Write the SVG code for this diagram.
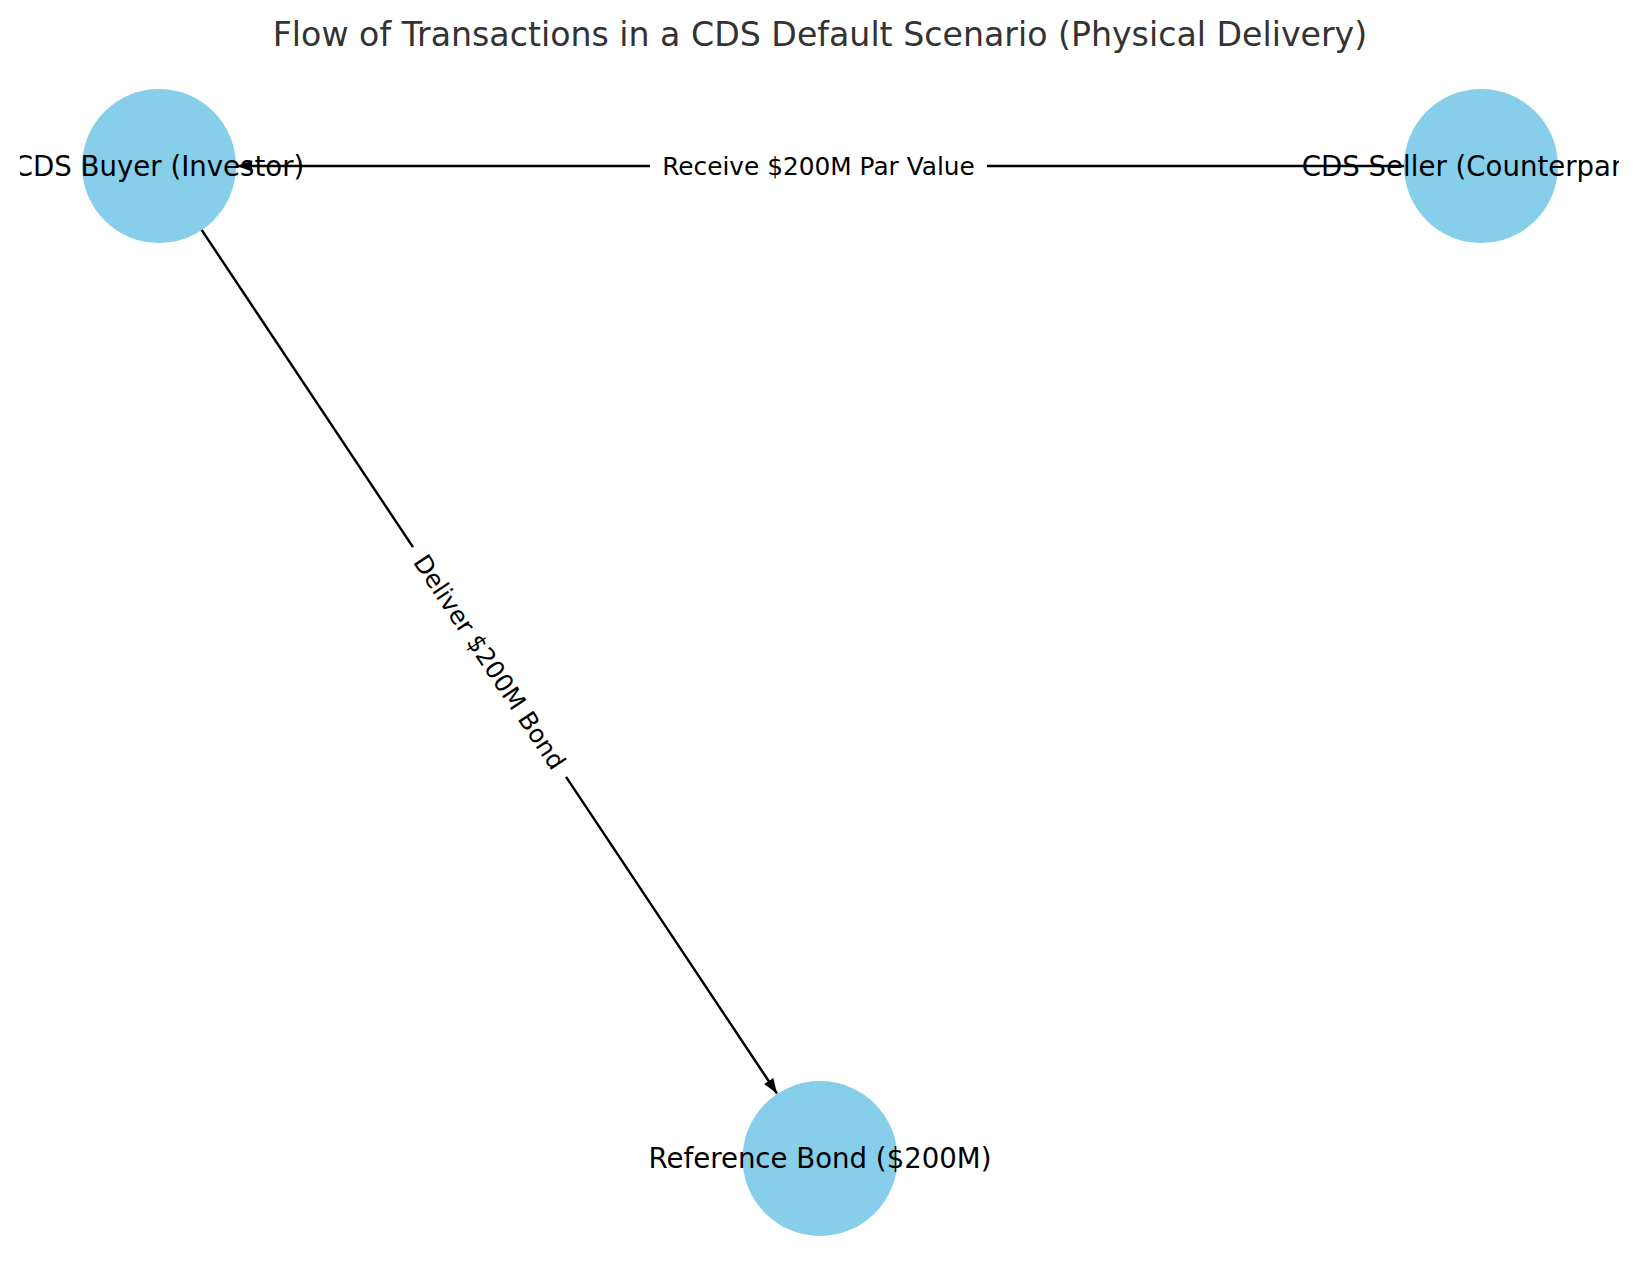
<svg xmlns="http://www.w3.org/2000/svg" width="1639" height="1282" viewBox="0 0 1639 1282">
<style>
.node{fill:#87CEEB}
.nl{font-family:"DejaVu Sans",sans-serif;font-size:27.6px;fill:#000;text-anchor:middle}
.el{font-family:"DejaVu Sans",sans-serif;font-size:24.8px;fill:#000;text-anchor:middle}
.edge{stroke:#000;stroke-width:2.4;fill:none}
.title{font-family:"DejaVu Sans",sans-serif;font-size:33.2px;fill:#333;text-anchor:middle}
</style>
<defs>
<marker id="ah" markerUnits="userSpaceOnUse" viewBox="0 0 15 11" refX="15" refY="5.5" markerWidth="15" markerHeight="11" orient="auto">
<path d="M0,0 L15,5.5 L0,11 Z" fill="#000"/>
</marker>
<clipPath id="axclip"><rect x="20" y="0" width="1599" height="1282"/></clipPath>
</defs>
<rect width="1639" height="1282" fill="#fff"/>
<text class="title" x="820" y="46">Flow of Transactions in a CDS Default Scenario (Physical Delivery)</text>
<g id="nodes-circles">
<circle class="node" cx="159" cy="166" r="77"/>
<circle class="node" cx="1481" cy="166" r="77"/>
<circle class="node" cx="820" cy="1158.5" r="77.5"/>
</g>
<g id="connectors">
<line class="edge" x1="1404" y1="166" x2="237" y2="166" marker-end="url(#ah)"/>
<line class="edge" x1="201.7" y1="230" x2="777" y2="1093.5" marker-end="url(#ah)"/>
<g id="edge-label-1">
<rect x="650" y="150" width="337" height="32" fill="#fff"/>
<text class="el" x="818.5" y="174.7">Receive $200M Par Value</text>
</g>
<g id="edge-label-2" transform="translate(489.5,662) rotate(56.3)">
<rect x="-138" y="-16" width="276" height="32" fill="#fff"/>
<text class="el" x="0" y="8.6">Deliver $200M Bond</text>
</g>
</g>
<g clip-path="url(#axclip)">
<g id="node-buyer"><text class="nl" x="159" y="175.5">CDS Buyer (Investor)</text></g>
<g id="node-seller"><text class="nl" x="1481" y="175.5">CDS Seller (Counterparty)</text></g>
<g id="node-bond"><text class="nl" x="820" y="1168">Reference Bond ($200M)</text></g>
</g>
</svg>
